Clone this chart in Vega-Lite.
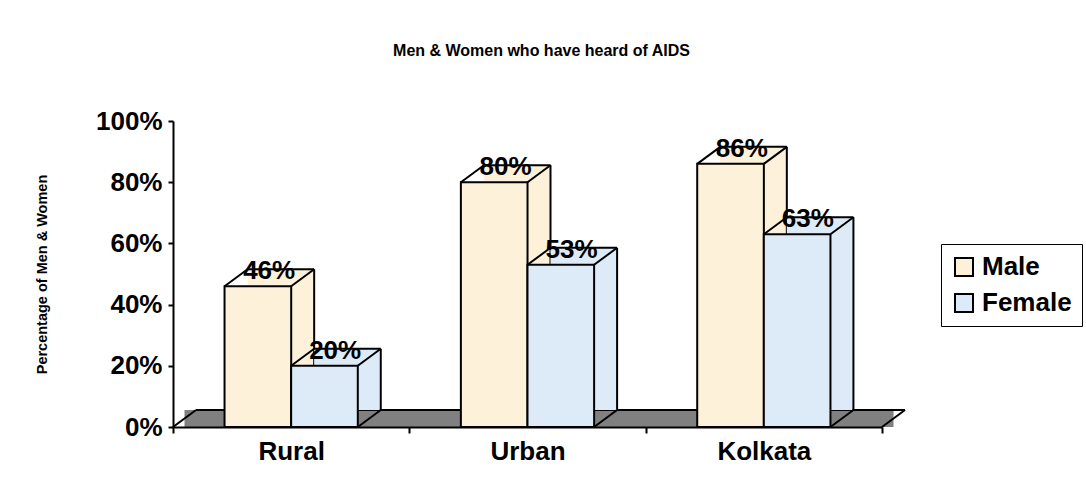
{
  "$schema": "https://vega.github.io/schema/vega-lite/v6.json",
  "width": 709,
  "height": 306,
  "autosize": "none",
  "padding": {"left": 173, "top": 121, "right": 204, "bottom": 77},
  "background": "white",
  "config": {"view": {"stroke": null}, "font": "Liberation Sans"},
  "title": {"text": "Men & Women who have heard of AIDS", "fontSize": 16, "fontWeight": "bold", "font": "Liberation Sans", "offset": 49, "dx": 14, "anchor": "middle", "color": "black"},
  "data": {"values": [
    {"area": "Rural", "sex": "Male", "pct": 0.46},
    {"area": "Rural", "sex": "Female", "pct": 0.20},
    {"area": "Urban", "sex": "Male", "pct": 0.80},
    {"area": "Urban", "sex": "Female", "pct": 0.53},
    {"area": "Kolkata", "sex": "Male", "pct": 0.86},
    {"area": "Kolkata", "sex": "Female", "pct": 0.63}
  ]},
  "encoding": {
    "x": {"field": "area", "type": "nominal", "sort": ["Rural", "Urban", "Kolkata"],
      "scale": {"paddingInner": 0, "paddingOuter": 0},
      "axis": {"title": null, "labelAngle": 0, "labelFontSize": 26, "labelFontWeight": "bold", "labelColor": "black", "tickBand": "extent", "tickSize": 6, "tickColor": "black", "tickWidth": 2, "domainColor": "black", "domainWidth": 2, "labelPadding": 5}},
    "y": {"field": "pct", "type": "quantitative", "scale": {"domain": [0, 1]},
      "axis": {"format": ".0%", "values": [0, 0.2, 0.4, 0.6, 0.8, 1], "grid": false, "title": "Percentage of Men & Women", "titleFontSize": 14.5, "titleFontWeight": "bold", "titleColor": "black", "titlePadding": 46, "labelFontSize": 26, "labelFontWeight": "bold", "labelColor": "black", "tickColor": "black", "tickSize": 5, "tickWidth": 2, "domainColor": "black", "domainWidth": 2, "labelPadding": 6}}
  },
  "layer": [
    {
      "transform": [{"filter": "datum.area === 'Rural' && datum.sex === 'Male'"}],
      "mark": {"type": "rect", "fill": "#808080", "xOffset": 11.5, "x2Offset": 11.5, "y2Offset": -17},
      "encoding": {"x": {"datum": "Rural", "bandPosition": 0}, "x2": {"datum": "Kolkata", "bandPosition": 1}, "y": {"datum": 0}, "y2": {"datum": 0}}
    },
    {
      "transform": [{"filter": "datum.area === 'Rural' && datum.sex === 'Male'"}],
      "mark": {"type": "rule", "stroke": "black", "strokeWidth": 2, "xOffset": 23, "x2Offset": 23, "yOffset": -17, "y2Offset": -17},
      "encoding": {"x": {"datum": "Rural", "bandPosition": 0}, "x2": {"datum": "Kolkata", "bandPosition": 1}, "y": {"datum": 0}, "y2": {"datum": 0}}
    },
    {
      "transform": [{"filter": "datum.area === 'Rural' && datum.sex === 'Male'"}],
      "mark": {"type": "rule", "stroke": "black", "strokeWidth": 2, "x2Offset": 23, "y2Offset": -17},
      "encoding": {"x": {"datum": "Rural", "bandPosition": 0}, "x2": {"datum": "Rural", "bandPosition": 0}, "y": {"datum": 0}, "y2": {"datum": 0}}
    },
    {
      "transform": [{"filter": "datum.area === 'Rural' && datum.sex === 'Male'"}],
      "mark": {"type": "rule", "stroke": "black", "strokeWidth": 2, "x2Offset": 23, "y2Offset": -17},
      "encoding": {"x": {"datum": "Kolkata", "bandPosition": 1}, "x2": {"datum": "Kolkata", "bandPosition": 1}, "y": {"datum": 0}, "y2": {"datum": 0}}
    },

    {
      "transform": [{"filter": "datum.sex === 'Male'"}],
      "mark": {"type": "bar", "width": {"band": 0.282}, "xOffset": -10.3, "yOffset": -17, "y2Offset": -17},
      "encoding": {"y2": {"datum": 0}, "color": {"field": "sex", "type": "nominal"}}
    },
    {
      "transform": [{"filter": "datum.sex === 'Male'"}],
      "mark": {"type": "rule", "stroke": "black", "strokeWidth": 2, "xOffset": -43.6, "x2Offset": 23, "yOffset": -17, "y2Offset": -17},
      "encoding": {"x": {"field": "area", "type": "nominal", "bandPosition": 0.5}, "x2": {"field": "area", "bandPosition": 0.5}, "y2": {"field": "pct"}}
    },
    {
      "transform": [{"filter": "datum.sex === 'Male'"}],
      "mark": {"type": "rule", "stroke": "black", "strokeWidth": 2, "xOffset": 23, "yOffset": -17, "y2Offset": -17},
      "encoding": {"x": {"field": "area", "type": "nominal", "bandPosition": 0.5}, "y2": {"datum": 0}}
    },
    {
      "transform": [{"filter": "datum.sex === 'Male'"}],
      "mark": {"type": "rule", "stroke": "black", "strokeWidth": 2, "xOffset": -66.6, "x2Offset": -43.6, "y2Offset": -17},
      "encoding": {"x": {"field": "area", "type": "nominal", "bandPosition": 0.5}, "x2": {"field": "area", "bandPosition": 0.5}, "y2": {"field": "pct"}}
    },
    {
      "transform": [{"filter": "datum.sex === 'Male'"}],
      "mark": {"type": "rule", "stroke": "black", "strokeWidth": 2, "xOffset": 0, "x2Offset": 23, "y2Offset": -17},
      "encoding": {"x": {"field": "area", "type": "nominal", "bandPosition": 0.5}, "x2": {"field": "area", "bandPosition": 0.5}, "y2": {"field": "pct"}}
    },
    {
      "transform": [{"filter": "datum.sex === 'Male'"}],
      "mark": {"type": "bar", "width": {"band": 0.282}, "xOffset": -33.3, "stroke": "black", "strokeWidth": 2},
      "encoding": {"color": {"field": "sex", "type": "nominal"}}
    },

    {
      "transform": [{"filter": "datum.sex === 'Female'"}],
      "mark": {"type": "bar", "width": {"band": 0.282}, "xOffset": 56.3, "yOffset": -17, "y2Offset": -17},
      "encoding": {"y2": {"datum": 0}, "color": {"field": "sex", "type": "nominal"}}
    },
    {
      "transform": [{"filter": "datum.sex === 'Female'"}],
      "mark": {"type": "rule", "stroke": "black", "strokeWidth": 2, "xOffset": 23, "x2Offset": 89.6, "yOffset": -17, "y2Offset": -17},
      "encoding": {"x": {"field": "area", "type": "nominal", "bandPosition": 0.5}, "x2": {"field": "area", "bandPosition": 0.5}, "y2": {"field": "pct"}}
    },
    {
      "transform": [{"filter": "datum.sex === 'Female'"}],
      "mark": {"type": "rule", "stroke": "black", "strokeWidth": 2, "xOffset": 89.6, "yOffset": -17, "y2Offset": -17},
      "encoding": {"x": {"field": "area", "type": "nominal", "bandPosition": 0.5}, "y2": {"datum": 0}}
    },
    {
      "transform": [{"filter": "datum.sex === 'Female'"}],
      "mark": {"type": "rule", "stroke": "black", "strokeWidth": 2, "xOffset": 0, "x2Offset": 23, "y2Offset": -17},
      "encoding": {"x": {"field": "area", "type": "nominal", "bandPosition": 0.5}, "x2": {"field": "area", "bandPosition": 0.5}, "y2": {"field": "pct"}}
    },
    {
      "transform": [{"filter": "datum.sex === 'Female'"}],
      "mark": {"type": "rule", "stroke": "black", "strokeWidth": 2, "xOffset": 66.6, "x2Offset": 89.6, "y2Offset": -17},
      "encoding": {"x": {"field": "area", "type": "nominal", "bandPosition": 0.5}, "x2": {"field": "area", "bandPosition": 0.5}, "y2": {"field": "pct"}}
    },
    {
      "transform": [{"filter": "datum.sex === 'Female'"}],
      "mark": {"type": "rule", "stroke": "black", "strokeWidth": 2, "xOffset": 66.6, "x2Offset": 89.6, "yOffset": 0, "y2Offset": -17},
      "encoding": {"x": {"field": "area", "type": "nominal", "bandPosition": 0.5}, "x2": {"field": "area", "bandPosition": 0.5}, "y": {"datum": 0}, "y2": {"datum": 0}}
    },
    {
      "transform": [{"filter": "datum.sex === 'Female'"}],
      "mark": {"type": "bar", "width": {"band": 0.282}, "xOffset": 33.3, "stroke": "black", "strokeWidth": 2},
      "encoding": {"color": {"field": "sex", "type": "nominal",
          "scale": {"domain": ["Male", "Female"], "range": ["#FEF1D9", "#DDEBF9"]},
          "legend": {"title": null, "orient": "none", "legendX": 768, "legendY": 123, "strokeColor": "black", "padding": 10, "labelFontSize": 26, "labelFontWeight": "bold", "labelColor": "black", "symbolType": "square", "symbolSize": 324, "symbolStrokeColor": "black", "symbolStrokeWidth": 2, "rowPadding": 10, "labelOffset": 5}}}
    },

    {
      "transform": [{"filter": "datum.sex === 'Male'"}],
      "mark": {"type": "text", "fontSize": 26, "fontWeight": "bold", "color": "black", "dx": -22, "dy": -7, "baseline": "alphabetic", "align": "center"},
      "encoding": {"x": {"field": "area", "type": "nominal", "bandPosition": 0.5}, "text": {"field": "pct", "type": "quantitative", "format": ".0%"}}
    },
    {
      "transform": [{"filter": "datum.sex === 'Female'"}],
      "mark": {"type": "text", "fontSize": 26, "fontWeight": "bold", "color": "black", "dx": 44, "dy": -7, "baseline": "alphabetic", "align": "center"},
      "encoding": {"x": {"field": "area", "type": "nominal", "bandPosition": 0.5}, "text": {"field": "pct", "type": "quantitative", "format": ".0%"}}
    }
  ]
}
